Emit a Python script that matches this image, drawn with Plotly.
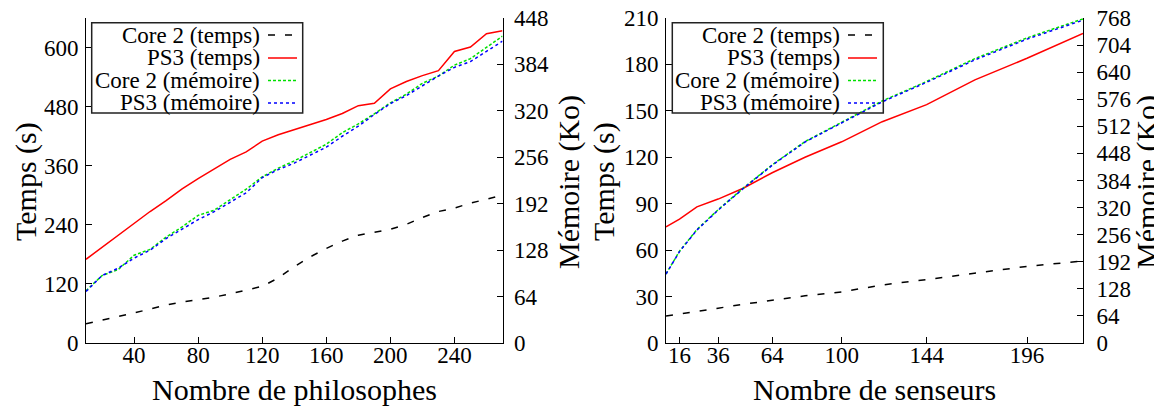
import plotly.graph_objects as go

# ---------------- data ----------------
philosophes = [10, 20, 30, 40, 50, 60, 70, 80, 90, 100, 110, 120, 130, 140,
               150, 160, 170, 180, 190, 200, 210, 220, 230, 240, 250, 260, 270]
phil_core2_temps = [39, 46, 53, 61, 69, 77, 83, 88, 93, 100, 107, 115, 132, 155,
                    175, 192, 207, 219, 225, 231, 241, 255, 267, 274, 284, 292, 300]
phil_ps3_temps = [170, 194, 218, 242, 267, 289, 313, 334, 354, 373, 388, 410, 423, 433,
                  443, 454, 466, 482, 487, 516, 531, 543, 553, 592, 601, 628, 634]
phil_core2_mem = [72, 93, 101, 121, 129, 146, 160, 176, 183, 197, 212, 229, 241, 251,
                  262, 274, 290, 302, 316, 331, 343, 358, 368, 383, 392, 407, 423]
phil_ps3_mem = [71, 93, 103, 117, 128, 144, 157, 170, 181, 194, 207, 228, 239, 248,
                259, 270, 285, 299, 315, 330, 341, 355, 368, 380, 388, 402, 416]

senseurs = [9, 16, 25, 36, 49, 64, 81, 100, 121, 144, 169, 196, 225]
sens_core2_temps = [17.5, 18.7, 20.5, 22.5, 25, 27.5, 30.5, 33, 37.5, 41, 45, 49.5, 53]
sens_ps3_temps = [75, 80, 88, 93, 100, 110, 120, 130, 143, 154, 170, 184, 200]
sens_core2_mem = [163, 217, 268, 315, 366, 421, 476, 522, 572, 618, 672, 721, 766]
sens_ps3_mem = [163, 216, 267, 314, 365, 420, 475, 520, 570, 616, 669, 718, 763]

phil_xticks = [40, 80, 120, 160, 200, 240]
phil_yticks = [0, 120, 240, 360, 480, 600]
phil_y2ticks = [0, 64, 128, 192, 256, 320, 384, 448]
sens_xticks = [16, 36, 64, 100, 144, 196]
sens_yticks = [0, 30, 60, 90, 120, 150, 180, 210]
sens_y2ticks = [0, 64, 128, 192, 256, 320, 384, 448, 512, 576, 640, 704, 768]

series_names = ["Core 2 (temps)", "PS3 (temps)", "Core 2 (mémoire)", "PS3 (mémoire)"]
series_colors = ["#000000", "#ff0000", "#00e000", "#0000ff"]
series_dash = ["7px,10px", "solid", "3px,2px", "dot"]

# the page body has an 8px margin: the figure is drawn from (8, 8)
OFF = 8
W, H = 1162 - OFF, 406 - OFF
FONT = "Liberation Serif, Times New Roman, serif"


def px(x):
    return (x - OFF) / W


def py(y):
    return 1 - (y - OFF) / H


fig = go.Figure()

left = dict(x="x", t="y", m="y2")
right = dict(x="x2", t="y3", m="y4")

for axes, xs, ys in [
    (left, philosophes, [phil_core2_temps, phil_ps3_temps, phil_core2_mem, phil_ps3_mem]),
    (right, senseurs, [sens_core2_temps, sens_ps3_temps, sens_core2_mem, sens_ps3_mem]),
]:
    for i, vals in enumerate(ys):
        fig.add_trace(go.Scatter(
            x=xs, y=vals, mode="lines", name=series_names[i], showlegend=False,
            xaxis=axes["x"], yaxis=axes["t"] if i < 2 else axes["m"],
            line=dict(color=series_colors[i], width=1.5, dash=series_dash[i]),
        ))

ydom = [py(343), py(18)]
axis_common = dict(showline=True, linecolor="black", linewidth=1, ticks="inside",
                   ticklen=6, tickcolor="black", showgrid=False, zeroline=False,
                   ticklabeloverflow="allow",
                   tickfont=dict(family=FONT, size=23, color="black"))

fig.update_layout(
    width=W, height=H,
    margin=dict(l=0, r=0, t=0, b=0, autoexpand=False),
    paper_bgcolor="white", plot_bgcolor="white",
    showlegend=False,
    xaxis=dict(domain=[px(86), px(502.5)], range=[10, 270], tickvals=phil_xticks,
               anchor="y", ticklabelstandoff=-9, **axis_common),
    yaxis=dict(domain=ydom, range=[0, 660], tickvals=phil_yticks, anchor="x",
               ticklabelstandoff=2, **axis_common),
    yaxis2=dict(domain=ydom, range=[0, 448], tickvals=phil_y2ticks, anchor="x",
                overlaying="y", side="right", ticklabelstandoff=6, **axis_common),
    xaxis2=dict(domain=[px(666), px(1083)], range=[9, 225], tickvals=sens_xticks,
                anchor="y3", ticklabelstandoff=-9, **axis_common),
    yaxis3=dict(domain=ydom, range=[0, 210], tickvals=sens_yticks, anchor="x2",
                ticklabelstandoff=2, **axis_common),
    yaxis4=dict(domain=ydom, range=[0, 768], tickvals=sens_y2ticks, anchor="x2",
                overlaying="y3", side="right", ticklabelstandoff=8, **axis_common),
)

# axis titles
titles = [
    ("Temps (s)", 26, 182, -90),
    ("Mémoire (Ko)", 569, 182, -90),
    ("Nombre de philosophes", 294, 389, 0),
    ("Temps (s)", 604, 182, -90),
    ("Mémoire (Ko)", 1147, 182, -90),
    ("Nombre de senseurs", 874, 389, 0),
]
for text, x, y, ang in titles:
    fig.add_annotation(text=text, x=px(x), y=py(y), xref="paper", yref="paper",
                       xanchor="center", yanchor="middle", showarrow=False,
                       textangle=ang, font=dict(family=FONT, size=30, color="black"))

# legends (gnuplot style: right-aligned text, sample on the right)
row_y = [35, 58, 80.5, 103]
for box_left, text_right, s0, s1, box_right in [(91.7, 262, 268, 297, 302.7),
                                                 (672.3, 842, 848, 877, 883.3)]:
    fig.add_shape(type="rect", xref="paper", yref="paper",
                  x0=px(box_left), x1=px(box_right), y0=py(113), y1=py(22.7),
                  line=dict(color="#222222", width=1.5), fillcolor="rgba(0,0,0,0)")
    for i, name in enumerate(series_names):
        fig.add_annotation(text=name, x=px(text_right), y=py(row_y[i]), xref="paper",
                           yref="paper", xanchor="right", yanchor="middle",
                           showarrow=False,
                           font=dict(family=FONT, size=23, color="black"))
        fig.add_shape(type="line", xref="paper", yref="paper",
                      x0=px(s0), x1=px(s1), y0=py(row_y[i]), y1=py(row_y[i]),
                      line=dict(color=series_colors[i], width=1.5, dash=series_dash[i]))

fig.write_html("out.html")
